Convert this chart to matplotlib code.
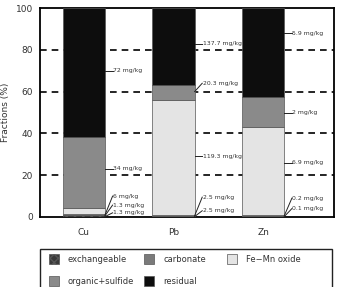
import numpy as np
import matplotlib
matplotlib.use('Agg')
import matplotlib.pyplot as plt
from matplotlib.patches import Rectangle

# metals and fraction shares (%)
metals = ['Cu', 'Pb', 'Zn']
fractions = ['exchangeable', 'carbonate', 'Fe\u2212Mn oxide', 'organic+sulfide', 'residual']
exchangeable = [0.8, 0.5, 0.5]
carbonate = [0.8, 0.5, 0.5]
femn_oxide = [2.7, 55.0, 42.0]
organic_sulfide = [34.2, 7.0, 14.4]
residual = [61.5, 37.0, 42.6]

# concentration labels (bottom -> top) for each metal
conc_labels = {
    'Cu': ['1.3 mg/kg', '1.3 mg/kg', '6 mg/kg', '34 mg/kg', '72 mg/kg'],
    'Pb': ['2.5 mg/kg', '2.5 mg/kg', '119.3 mg/kg', '20.3 mg/kg', '137.7 mg/kg'],
    'Zn': ['0.1 mg/kg', '0.2 mg/kg', '6.9 mg/kg', '2 mg/kg', '5.9 mg/kg'],
}

# layout of label text heights and where the leader lines start on the bar
label_y = {
    'Cu': [2.0, 5.7, 10.0, 23.0, 70.0],
    'Pb': [3.0, 9.5, 29.0, 64.0, 83.0],
    'Zn': [4.0, 9.0, 26.0, 50.0, 88.0],
}
line_start = {
    'Cu': [0.2, 0.6, 1.0, 23.0, 70.0],
    'Pb': [0.2, 0.6, 29.0, 60.0, 83.0],
    'Zn': [0.2, 0.6, 26.0, 50.0, 88.0],
}

colors = ['#3a3a3a', '#7a7a7a', '#e4e4e4', '#8a8a8a', '#0d0d0d']
hatches = ['xxxx', None, None, None, None]
txt_col = '#333333'
W, H = 341, 287

fig = plt.figure(figsize=(W/100, H/100), dpi=100)
ax = fig.add_axes([40/W, 1 - 217/H, 294/W, 209/H])

x = np.arange(len(metals))
width = 0.47
series = [exchangeable, carbonate, femn_oxide, organic_sulfide, residual]
bottom = np.zeros(len(metals))
for name, vals, c, h in zip(fractions, series, colors, hatches):
    ax.bar(x, vals, width, bottom=bottom, color=c, edgecolor='#555555',
           linewidth=0.5, hatch=h, zorder=3)
    bottom += np.array(vals)

# dashed guide lines behind the bars
for yv in [20, 40, 60, 80]:
    ax.axhline(yv, color='black', linestyle=(0, (4, 3)), linewidth=1.2, zorder=1)

# concentration labels with leader lines
for i, m in enumerate(metals):
    xr = x[i] + width / 2
    for lab, yl, ys in zip(conc_labels[m], label_y[m], line_start[m]):
        ax.plot([xr, xr + 0.085], [ys, yl], color='#222222', linewidth=0.7,
                zorder=4, clip_on=False)
        ax.text(xr + 0.09, yl, lab, fontsize=4.4, color=txt_col,
                va='center', ha='left', zorder=5)

ax.set_xlim(-0.49, 2.79)
ax.set_ylim(0, 100)
ax.set_xticks(x)
ax.set_xticklabels(metals, fontsize=6.5, color=txt_col)
ax.set_yticks([0, 20, 40, 60, 80, 100])
ax.tick_params(axis='both', length=0, labelsize=6.5, labelcolor=txt_col)
ax.tick_params(axis='x', pad=8)
ax.tick_params(axis='y', pad=5)
ax.set_ylabel('Fractions (%)', fontsize=6.5, color=txt_col, labelpad=4)
for s in ax.spines.values():
    s.set_linewidth(1.3)

# hand-placed legend: row 1 exch, carbonate, Fe-Mn; row 2 organic, residual
leg_pos = {0: (49, 259), 1: (144, 259), 2: (227, 259), 3: (49, 281), 4: (144, 281)}
for k, (px, py) in leg_pos.items():
    fig.add_artist(Rectangle((px/W, 1 - (py + 5)/H), 10/W, 10/H,
                             transform=fig.transFigure, facecolor=colors[k],
                             edgecolor='#555555', linewidth=0.5, hatch=hatches[k]))
    fig.text((px + 19)/W, 1 - py/H, fractions[k], fontsize=6, color=txt_col,
             va='center', ha='left')
fig.add_artist(Rectangle((40/W, -0.1), 292/W, 0.1 + 1 - 249/H,
                         transform=fig.transFigure, fill=False,
                         edgecolor='#222222', linewidth=1.0))

fig.savefig('out.png', dpi=100)
